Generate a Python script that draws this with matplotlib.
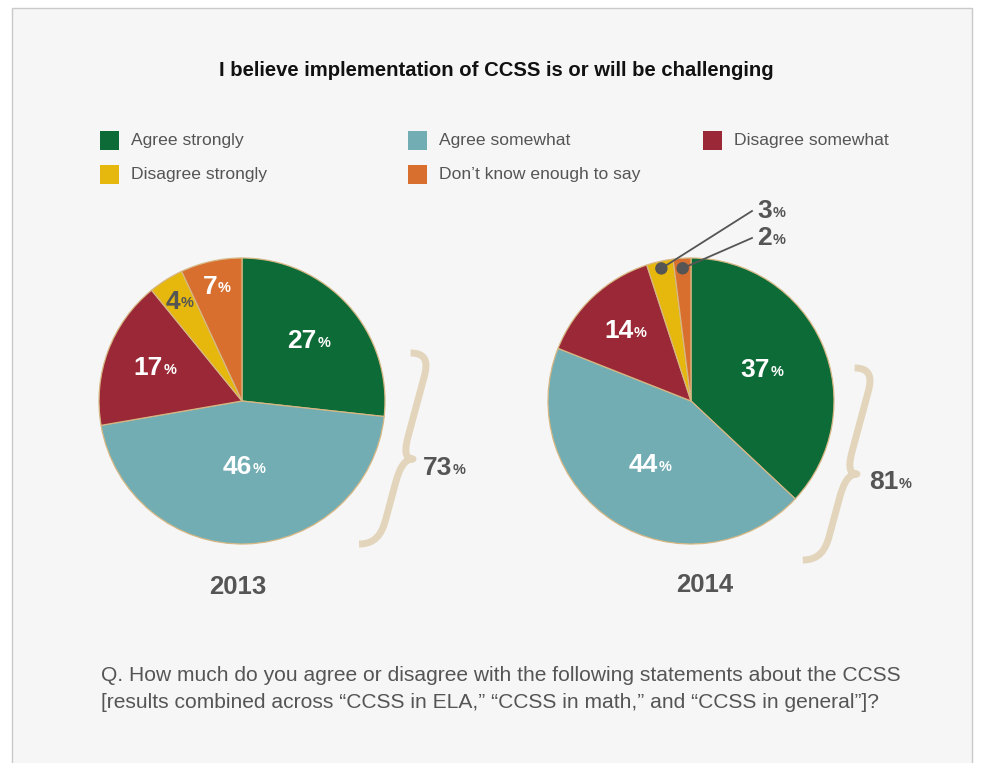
import os
import matplotlib
matplotlib.use("Agg")
import matplotlib.pyplot as plt
from matplotlib import font_manager
from matplotlib.font_manager import FontProperties
from matplotlib.path import Path
from matplotlib.patches import PathPatch, Rectangle, Circle
import numpy as np

W, H = 989, 763

categories = ["Agree strongly", "Agree somewhat", "Disagree somewhat",
              "Disagree strongly", "Don\u2019t know enough to say"]
colors = ["#0d6b37", "#72adb4", "#9b2836", "#e6b70d", "#d86f2e"]
years = ["2013", "2014"]
share_2013 = [27, 46, 17, 4, 7]
share_2014 = [37, 44, 14, 3, 2]
agree_total = [73, 81]

title = "I believe implementation of CCSS is or will be challenging"
question = ("Q. How much do you agree or disagree with the following statements about the CCSS\n"
            "[results combined across \u201cCCSS in ELA,\u201d \u201cCCSS in math,\u201d "
            "and \u201cCCSS in general\u201d]?")

GRAY = "#555555"
BRACE = "#e3d5bc"

FONT_FILES = {os.path.basename(f.fname): f.fname for f in font_manager.fontManager.ttflist}


def props(size, bold=False, narrow=True):
    # pick the Liberation face by file name, the family lookup mixes up widths
    name = "LiberationSans%s-%s.ttf" % ("Narrow" if narrow else "",
                                        "Bold" if bold else "Regular")
    if name in FONT_FILES:
        return FontProperties(fname=FONT_FILES[name], size=size)
    return FontProperties(family=["Liberation Sans", "DejaVu Sans"], size=size,
                          weight="bold" if bold else "normal",
                          stretch="condensed" if narrow else "normal")


fig = plt.figure(figsize=(W / 100, H / 100), dpi=100)
fig.patch.set_facecolor("white")
ax = fig.add_axes([0, 0, 1, 1])


def py(y):
    # pixel rows run downwards, data y runs upwards
    return H - y


def pct_label(x, y, value, color, size=19, ha="center"):
    shift = size * 0.36 if ha == "center" else 0
    t = ax.text(x - shift, py(y), str(value), ha=ha, va="center", color=color,
                fontproperties=props(size, bold=True, narrow=False), zorder=5)
    ax.annotate("%", xy=(1, 0), xycoords=t, xytext=(0.5, size * 0.12),
                textcoords="offset points", ha="left", va="bottom", color=color,
                fontproperties=props(size * 0.55, bold=True, narrow=False), zorder=5)


def brace(tip_x, tip_y, top, bottom, e=20, t=11, k=24, shear=0.27):
    # right-pointing curly brace, sheared so it leans with the pie edge
    pts = [(-e, top), (-e * 0.2, top), (0, top - k * 0.4), (0, top - k),
           (0, k),
           (0, k * 0.4), (t * 0.2, 0), (t, 0),
           (t * 0.2, 0), (0, -k * 0.4), (0, -k),
           (0, -(bottom - k)),
           (0, -(bottom - k * 0.4)), (-e * 0.2, -bottom), (-e, -bottom)]
    codes = [Path.MOVETO, Path.CURVE4, Path.CURVE4, Path.CURVE4,
             Path.LINETO,
             Path.CURVE4, Path.CURVE4, Path.CURVE4,
             Path.CURVE4, Path.CURVE4, Path.CURVE4,
             Path.LINETO,
             Path.CURVE4, Path.CURVE4, Path.CURVE4]
    verts = [(tip_x - t + x + shear * y, py(tip_y) + y) for x, y in pts]
    ax.add_patch(PathPatch(Path(verts, codes), facecolor="none", edgecolor=BRACE,
                           lw=5, capstyle="butt", joinstyle="round", zorder=3))


# panel background
ax.add_patch(Rectangle((12, py(780)), 960, 772, facecolor="#f6f6f6",
                       edgecolor="#c9c9c9", lw=1, zorder=0))

ax.text(496, py(71), title, ha="center", va="center", color="#111111",
        fontproperties=props(14.6, bold=True))

# legend
leg_pos = [(100, 131), (408, 131), (703, 131), (100, 165), (408, 165)]
for (lx, ly), name, c in zip(leg_pos, categories, colors):
    ax.add_patch(Rectangle((lx, py(ly + 19)), 19, 19, facecolor=c, edgecolor="none"))
    ax.text(lx + 31, py(ly + 9.5), name, ha="left", va="center", color=GRAY,
            fontproperties=props(12.6, narrow=False))

R = 143
centers = [(242, 401), (691, 401)]
label_r = [[0.63, 0.46, 0.65, 0.82, 0.82], [0.54, 0.53, 0.67, 0.95, 0.93]]
label_col = [["white", "white", "white", GRAY, "white"],
             ["white", "white", "white", GRAY, GRAY]]
callout_xy = {3: (757, 211), 4: (757, 238)}

for i, shares in enumerate([share_2013, share_2014]):
    cx, cy = centers[i]
    wedges, _ = ax.pie(shares, colors=colors, startangle=90, counterclock=False,
                       center=(cx, py(cy)), radius=R, frame=True,
                       wedgeprops=dict(edgecolor="#d6b784", linewidth=0.9))
    for j, w in enumerate(wedges):
        a = np.deg2rad((w.theta1 + w.theta2) / 2)
        x = cx + label_r[i][j] * R * np.cos(a)
        y = cy - label_r[i][j] * R * np.sin(a)
        if i == 1 and j in callout_xy:
            tx, ty = callout_xy[j]
            ax.plot([x, tx - 5], [py(y), py(ty)], color=GRAY, lw=1.3, zorder=6)
            ax.add_patch(Circle((x, py(y)), 5.5, color=GRAY, zorder=7))
            pct_label(tx, ty, shares[j], GRAY, ha="left")
        else:
            pct_label(x, y, shares[j], label_col[i][j])
    ax.text(cx - 4 + 18 * i, py(587 - 2 * i), years[i], ha="center", va="center",
            color=GRAY, fontproperties=props(18.5, bold=True, narrow=False))

# braces grouping the two "agree" slices
brace(413, 459, 106, 85)
brace(857, 474, 106, 86)
pct_label(423, 468, agree_total[0], GRAY, ha="left")
pct_label(869, 482, agree_total[1], GRAY, ha="left")

ax.text(101, py(689), question, ha="left", va="center", color=GRAY,
        fontproperties=props(15.1), linespacing=1.57)

ax.set_xlim(0, W)
ax.set_ylim(0, H)
ax.set_aspect("auto")
ax.axis("off")

fig.savefig("out.png", dpi=100, facecolor=fig.get_facecolor())
